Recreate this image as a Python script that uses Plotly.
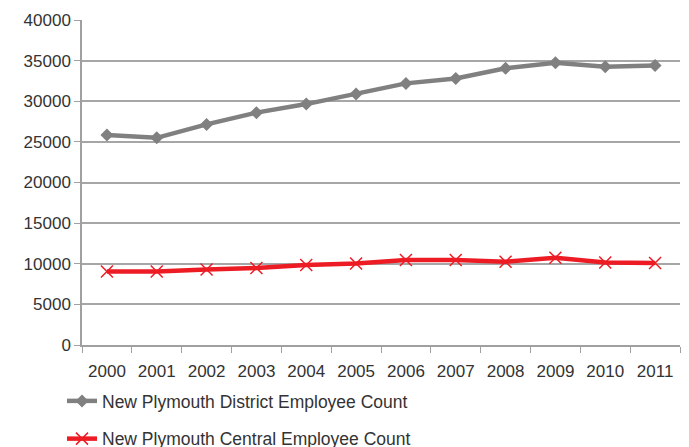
import plotly.graph_objects as go

years = ["2000", "2001", "2002", "2003", "2004", "2005", "2006", "2007", "2008", "2009", "2010", "2011"]
district = [25850, 25500, 27150, 28600, 29650, 30900, 32200, 32800, 34050, 34750, 34250, 34400]
central = [9050, 9050, 9300, 9470, 9850, 10030, 10460, 10460, 10250, 10750, 10150, 10100]

FONT = "Liberation Sans, Arial, sans-serif"

fig = go.Figure()
fig.add_trace(go.Scatter(
    x=years, y=district, mode="lines+markers",
    name="New Plymouth District Employee Count",
    line=dict(color="#808080", width=4.5),
    marker=dict(symbol="diamond", size=10, color="#808080"),
    legendgroup="a",
))
fig.add_trace(go.Scatter(
    x=years, y=central, mode="lines+markers",
    name="New Plymouth Central Employee Count",
    line=dict(color="#ed1c24", width=4.5),
    marker=dict(symbol="x-thin", size=12, color="#ed1c24",
                line=dict(color="#ed1c24", width=1.5)),
    legendgroup="b",
))

fig.update_layout(
    width=689, height=447,
    margin=dict(l=82, r=9, t=20, b=102, autoexpand=False),
    paper_bgcolor="white", plot_bgcolor="white",
    font=dict(family=FONT, size=17, color="#333333"),
    showlegend=True,
    legend=dict(
        orientation="v", xref="container", yref="container",
        x=62/689, xanchor="left", y=1 - 383/447, yanchor="top",
        traceorder="grouped", tracegroupgap=12,
        font=dict(family=FONT, size=17.5, color="#333333"),
        bgcolor="rgba(0,0,0,0)", itemwidth=30,
    ),
    xaxis=dict(
        type="category", range=[-0.5, 11.5],
        showgrid=False, showline=True, linecolor="#a0a0a0", linewidth=1.5,
        ticks="outside", ticklen=6, tickcolor="#a0a0a0",
        tickson="boundaries", zeroline=False, tickangle=0,
        ticklabelstandoff=10,
        tickfont=dict(family=FONT, size=17, color="#333333"),
    ),
    yaxis=dict(
        range=[0, 40000], dtick=5000, tickformat="d",
        showgrid=True, gridcolor="#a6a6a6", gridwidth=1.5,
        showline=True, linecolor="#a0a0a0", linewidth=1.5,
        ticks="outside", ticklen=6, tickcolor="#a0a0a0",
        zeroline=False,
        tickfont=dict(family=FONT, size=17, color="#333333"),
    ),
)

fig.write_html("out.html")
